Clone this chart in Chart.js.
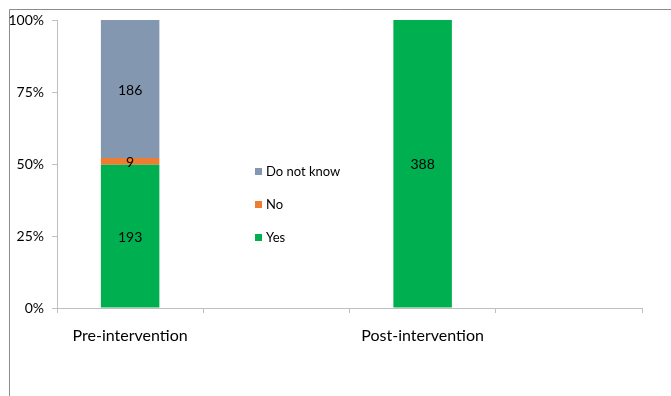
<!DOCTYPE html>
<html>
<head>
<meta charset="utf-8">
<script src="https://cdn.jsdelivr.net/npm/chart.js@4/dist/chart.umd.min.js"></script>
<style>
  html, body { margin: 0; padding: 0; background: #fff; }
  #wrap { width: 671px; height: 396px; position: relative; }
</style>
</head>
<body>
<div id="wrap"><canvas id="chart" width="671" height="396"></canvas></div>
<script>
// Chart data
const categories = ['Pre-intervention', '', 'Post-intervention', ''];
const yesCounts = [193, null, 388, null];
const noCounts = [9, null, 0, null];
const dontKnowCounts = [186, null, 0, null];
const yTicks = [0, 25, 50, 75, 100];

const FONT = 'Lato, "Open Sans", sans-serif';

function toPercent(counts) {
    return counts.map(function(v, i) {
        if (v === null) return null;
        const total = (yesCounts[i] || 0) + (noCounts[i] || 0) + (dontKnowCounts[i] || 0);
        return v / total * 100;
    });
}

// Frame line on top and left like the original picture
const framePlugin = {
    id: 'frame',
    beforeDraw: function(chart) {
        const ctx = chart.ctx;
        ctx.save();
        ctx.strokeStyle = '#8c8c8c';
        ctx.lineWidth = 1;
        ctx.beginPath();
        ctx.moveTo(9.5, chart.height);
        ctx.lineTo(9.5, 9.5);
        ctx.lineTo(chart.width, 9.5);
        ctx.stroke();
        ctx.restore();
    }
};

// Count labels inside every segment
const valueLabels = {
    id: 'valueLabels',
    afterDatasetsDraw: function(chart) {
        const ctx = chart.ctx;
        ctx.save();
        ctx.font = '14px ' + FONT;
        ctx.fillStyle = '#000';
        ctx.textAlign = 'center';
        ctx.textBaseline = 'middle';
        chart.data.datasets.forEach(function(ds, di) {
            const meta = chart.getDatasetMeta(di);
            meta.data.forEach(function(bar, i) {
                const count = ds.counts[i];
                if (!count) return;
                ctx.fillText(String(count), bar.x, (bar.y + bar.base) / 2 + 1);
            });
        });
        ctx.restore();
    }
};

// Legend sitting inside the plot, between the two bars
const innerLegend = {
    id: 'innerLegend',
    afterDraw: function(chart) {
        const ctx = chart.ctx;
        const area = chart.chartArea;
        const x = area.left + 198;
        let y = area.top + 152;
        ctx.save();
        ctx.font = '13px ' + FONT;
        ctx.textAlign = 'left';
        ctx.textBaseline = 'middle';
        const items = chart.data.datasets.slice().reverse();
        items.forEach(function(ds) {
            ctx.fillStyle = ds.backgroundColor;
            ctx.fillRect(x, y - 4, 7, 7);
            ctx.fillStyle = '#000';
            ctx.fillText(ds.label, x + 11, y);
            y += 33;
        });
        ctx.restore();
    }
};

const ctx = document.getElementById('chart').getContext('2d');
new Chart(ctx, {
    type: 'bar',
    data: {
        labels: categories,
        datasets: [
            { label: 'Yes', data: toPercent(yesCounts), counts: yesCounts, backgroundColor: '#00B050' },
            { label: 'No', data: toPercent(noCounts), counts: noCounts, backgroundColor: '#ED7D31' },
            { label: 'Do not know', data: toPercent(dontKnowCounts), counts: dontKnowCounts, backgroundColor: '#8497B0' }
        ]
    },
    options: {
        responsive: false,
        animation: false,
        events: [],
        layout: { padding: { top: 20, right: 29, bottom: 0, left: 0 } },
        datasets: {
            bar: { categoryPercentage: 1.0, barPercentage: 0.4 }
        },
        plugins: {
            legend: { display: false },
            tooltip: { enabled: false }
        },
        scales: {
            x: {
                stacked: true,
                offset: true,
                grid: { offset: true, drawOnChartArea: false, drawTicks: true, tickLength: 5, color: '#bfbfbf' },
                border: { display: true, color: '#bfbfbf' },
                ticks: {
                    color: '#000',
                    padding: 13,
                    maxRotation: 0,
                    autoSkip: false,
                    font: { family: FONT, size: 16 }
                },
                afterFit: function(scale) { scale.height = 88; }
            },
            y: {
                stacked: true,
                min: 0,
                max: 100,
                afterBuildTicks: function(scale) {
                    scale.ticks = yTicks.map(function(v) { return { value: v }; });
                },
                grid: { drawOnChartArea: false, drawTicks: true, tickLength: 5, color: '#bfbfbf' },
                border: { display: true, color: '#bfbfbf' },
                ticks: {
                    color: '#000',
                    padding: 8,
                    font: { family: FONT, size: 14 },
                    callback: function(v) { return v + '%'; }
                },
                afterFit: function(scale) { scale.width = 57; }
            }
        }
    },
    plugins: [framePlugin, valueLabels, innerLegend]
});
</script>
</body>
</html>
